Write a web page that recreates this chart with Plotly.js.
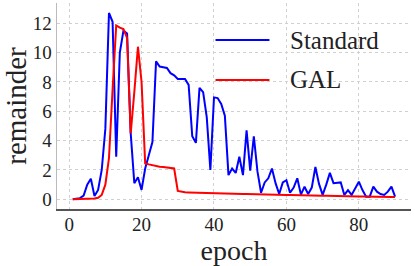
<!DOCTYPE html>
<html>
<head>
<meta charset="utf-8">
<script src="https://cdn.plot.ly/plotly-3.0.1.min.js"></script>
<style>html,body{margin:0;padding:0;background:#fff}#chart{width:415px;height:266px}</style>
</head>
<body>
<div id="chart"></div>
<script>
const epochs = [1,2,3,4,5,6,7,8,9,10,11,12,13,14,15,16,17,18,19,20,21,22,23,24,25,26,27,28,29,30,31,32,33,34,35,36,37,38,39,40,41,42,43,44,45,46,47,48,49,50,51,52,53,54,55,56,57,58,59,60,61,62,63,64,65,66,67,68,69,70,71,72,73,74,75,76,77,78,79,80,81,82,83,84,85,86,87,88,89,90];
const standard = [0.0,0.03,0.08,0.25,1.0,1.4,0.23,0.64,2.0,4.8,12.7,12.1,2.9,10.0,11.5,11.3,4.5,1.1,1.5,0.64,2.1,3.0,3.9,9.4,9.05,9.0,8.95,8.6,8.45,8.2,8.2,8.2,7.8,4.3,3.85,7.6,7.3,5.6,2.0,6.95,6.9,6.5,5.7,1.65,2.1,1.8,2.9,1.65,4.7,1.95,4.3,1.9,0.45,1.15,1.43,2.1,1.1,0.36,1.15,1.3,0.45,0.8,1.43,0.32,0.86,0.36,0.8,2.2,1.05,0.3,1.0,1.8,1.1,1.12,1.15,0.3,0.63,0.3,0.8,1.2,0.63,0.18,0.18,0.86,0.52,0.36,0.3,0.52,0.86,0.18];
const gal = [0.0,0.0,0.02,0.02,0.02,0.03,0.05,0.1,0.3,1.0,2.8,7.5,11.85,11.7,11.6,11.0,4.5,7.3,10.4,8.0,2.45,2.38,2.32,2.27,2.22,2.2,2.17,2.14,2.1,0.57,0.5,0.48,0.47,0.46,0.45,0.44,0.43,0.43,0.42,0.42,0.41,0.4,0.4,0.39,0.38,0.38,0.37,0.36,0.36,0.35,0.35,0.34,0.33,0.33,0.32,0.32,0.31,0.3,0.3,0.29,0.29,0.28,0.28,0.27,0.27,0.26,0.26,0.25,0.25,0.24,0.24,0.23,0.23,0.22,0.22,0.21,0.21,0.2,0.2,0.19,0.19,0.18,0.18,0.17,0.17,0.16,0.16,0.16,0.15,0.15];
const seriesNames = ["Standard", "GAL"];
const xTicks = [0,20,40,60,80];
const yTicks = [0,2,4,6,8,10,12];

const font = "'Liberation Serif', 'Times New Roman', serif";
const traces = [
  {x: epochs, y: standard, name: seriesNames[0], type: "scatter", mode: "lines", line: {color: "#0000ff", width: 2}},
  {x: epochs, y: gal, name: seriesNames[1], type: "scatter", mode: "lines", line: {color: "#ff0000", width: 2}}
];
const W = 354.4, H = 206, L = 57.3, T = 3;
function px(x){ return (x - L) / W; }
function py(y){ return (T + H - y) / H; }
const layout = {
  width: 415, height: 266,
  margin: {l: 57, r: 4, t: 3, b: 57},
  paper_bgcolor: "#fff", plot_bgcolor: "#fff",
  showlegend: false,
  font: {family: font, color: "#222"},
  xaxis: {
    range: [-3.35, 94.4], tickvals: xTicks, ticktext: xTicks.map(String),
    showgrid: true, gridcolor: "#d0d0d0", griddash: "dot", gridwidth: 1,
    zeroline: false, showline: true, linecolor: "#555", linewidth: 1.5,
    ticks: "", ticklabelstandoff: -2, tickfont: {size: 19, family: font, color: "#222"},
    title: {text: "epoch", font: {size: 28, family: font, color: "#222"}, standoff: 6}
  },
  yaxis: {
    range: [-0.66, 13.38], tickvals: yTicks, ticktext: yTicks.map(String),
    showgrid: true, gridcolor: "#d0d0d0", griddash: "dot", gridwidth: 1,
    zeroline: false, showline: true, linecolor: "#bbbbbb", linewidth: 1.5,
    ticks: "", tickfont: {size: 19, family: font, color: "#222"},
    title: {text: "remainder", font: {size: 29, family: font, color: "#222"}, standoff: 2}
  },
  shapes: [
    {type: "line", xref: "paper", yref: "paper", x0: px(216), x1: px(270), y0: py(40), y1: py(40), line: {color: "#0000ff", width: 2}},
    {type: "line", xref: "paper", yref: "paper", x0: px(216), x1: px(270), y0: py(80), y1: py(80), line: {color: "#ff0000", width: 2}}
  ],
  annotations: [
    {xref: "paper", yref: "paper", x: px(289), y: py(40), xanchor: "left", yanchor: "middle", showarrow: false, text: seriesNames[0], font: {size: 25, family: font, color: "#222"}},
    {xref: "paper", yref: "paper", x: px(289), y: py(80), xanchor: "left", yanchor: "middle", showarrow: false, text: seriesNames[1], font: {size: 25, family: font, color: "#222"}}
  ]
};
Plotly.newPlot("chart", traces, layout, {displayModeBar: false, staticPlot: true});
</script>
</body>
</html>
